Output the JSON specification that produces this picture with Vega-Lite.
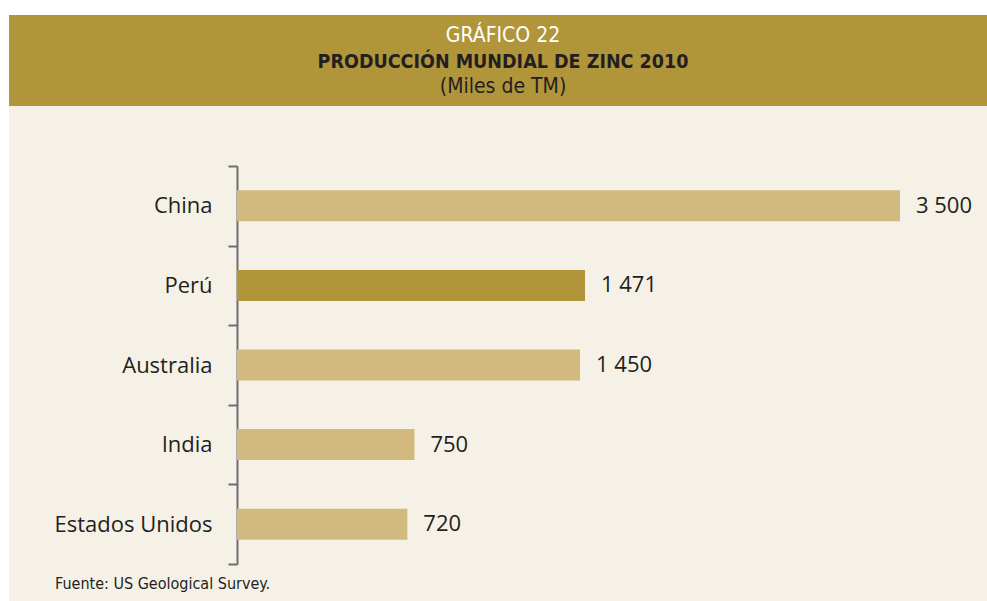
{
  "$schema": "https://vega.github.io/schema/vega-lite/v6.json",
  "background": "#ffffff",
  "padding": {"left": 9, "top": 15, "right": 0, "bottom": 0},
  "spacing": 0,
  "bounds": "flush",
  "resolve": {"scale": {"color": "independent", "y": "independent", "x": "independent"}},
  "config": {
    "view": {"stroke": null},
    "locale": {"number": {"decimal": ",", "thousands": " ", "grouping": [3], "currency": ["", ""]}}
  },
  "vconcat": [
    {
      "width": 978,
      "height": 91,
      "view": {"fill": "#B0953A", "stroke": null},
      "data": {"values": [
        {"line": "1", "text": "GRÁFICO 22", "style": "light"},
        {"line": "2", "text": "PRODUCCIÓN MUNDIAL DE ZINC 2010", "style": "bold"},
        {"line": "3", "text": "(Miles de TM)", "style": "dark"}
      ]},
      "encoding": {
        "y": {"field": "line", "type": "ordinal", "scale": {"type": "point", "domain": ["1", "2", "3"], "range": [21, 72], "padding": 0}, "axis": null},
        "text": {"field": "text"}
      },
      "layer": [
        {
          "transform": [{"filter": "datum.style === 'light'"}],
          "mark": {"type": "text", "font": "'DejaVu Sans Condensed', 'Liberation Sans', sans-serif", "fontSize": 21, "baseline": "middle", "align": "center", "dx": 5, "color": "#ffffff"}
        },
        {
          "transform": [{"filter": "datum.style === 'bold'"}],
          "mark": {"type": "text", "font": "'DejaVu Sans Condensed', 'Liberation Sans', sans-serif", "fontWeight": "bold", "fontSize": 19.5, "baseline": "middle", "align": "center", "dx": 5, "color": "#231f20"}
        },
        {
          "transform": [{"filter": "datum.style === 'dark'"}],
          "mark": {"type": "text", "font": "'DejaVu Sans Condensed', 'Liberation Sans', sans-serif", "fontSize": 21, "baseline": "middle", "align": "center", "dx": 5, "color": "#231f20"}
        }
      ]
    },
    {
      "width": 978,
      "height": 495,
      "view": {"fill": "#F5F1E6", "stroke": null},
      "title": {
        "text": "Fuente: US Geological Survey.",
        "orient": "bottom",
        "anchor": "start",
        "frame": "group",
        "dx": 46,
        "offset": -25,
        "font": "'DejaVu Sans Condensed', 'Liberation Sans', sans-serif",
        "fontSize": 16,
        "fontWeight": "normal",
        "color": "#231f20"
      },
      "data": {"values": [
        {"pais": "China", "valor": 3500, "grupo": "otro"},
        {"pais": "Perú", "valor": 1471, "grupo": "peru"},
        {"pais": "Australia", "valor": 1450, "grupo": "otro"},
        {"pais": "India", "valor": 750, "grupo": "otro"},
        {"pais": "Estados Unidos", "valor": 720, "grupo": "otro"}
      ]},
      "encoding": {
        "y": {
          "field": "pais", "type": "nominal", "sort": null,
          "scale": {"type": "band", "range": [60, 458], "paddingInner": 0, "paddingOuter": 0},
          "axis": {
            "title": null,
            "orient": "left",
            "offset": -228,
            "tickBand": "extent",
            "tickSize": 9,
            "tickWidth": 2,
            "tickColor": "#6D6E71",
            "domainColor": "#6D6E71",
            "domainWidth": 2,
            "labelPadding": 16,
            "labelFont": "Open Sans",
            "labelFontSize": 22,
            "labelColor": "#231f20",
            "grid": false
          }
        },
        "x": {
          "field": "valor", "type": "quantitative",
          "scale": {"domain": [0, 1471, 3500], "range": [228, 576, 891], "nice": false, "zero": false},
          "axis": null
        }
      },
      "layer": [
        {
          "mark": {"type": "bar", "size": 31},
          "encoding": {
            "color": {"field": "grupo", "type": "nominal", "scale": {"domain": ["otro", "peru"], "range": ["#D2BA7E", "#B0953A"]}, "legend": null}
          }
        },
        {
          "mark": {"type": "text", "align": "left", "baseline": "middle", "dx": 16, "font": "Open Sans", "fontSize": 22, "color": "#231f20"},
          "encoding": {
            "text": {"field": "valor", "type": "quantitative", "format": ",d"}
          }
        }
      ]
    }
  ]
}
